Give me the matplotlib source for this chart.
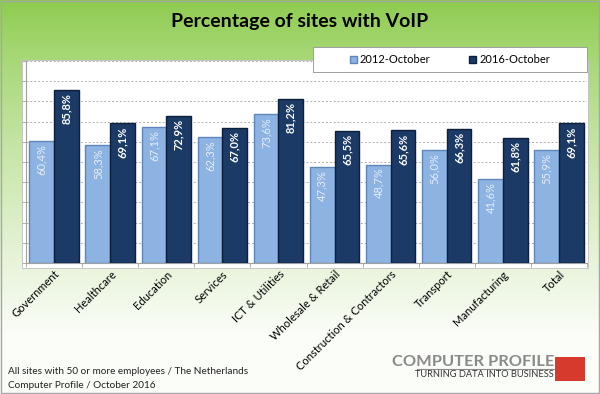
import matplotlib
matplotlib.use("Agg")
import matplotlib.pyplot as plt
import numpy as np
from matplotlib.patches import Rectangle

# data
categories = ["Government", "Healthcare", "Education", "Services", "ICT & Utilities",
              "Wholesale & Retail", "Construction & Contractors", "Transport",
              "Manufacturing", "Total"]
values_2012 = [60.4, 58.3, 67.1, 62.3, 73.6, 47.3, 48.7, 56.0, 41.6, 55.9]
values_2016 = [85.8, 69.1, 72.9, 67.0, 81.2, 65.5, 65.6, 66.3, 61.8, 69.1]
series_names = ["2012-October", "2016-October"]

plt.rcParams['font.family'] = ['Lato', 'DejaVu Sans']

W, H = 600, 394
fig = plt.figure(figsize=(W / 100, H / 100), dpi=100)

# background gradient (green top -> near white bottom)
bg = fig.add_axes([0, 0, 1, 1], zorder=-10)
top = np.array([0x8c, 0xcb, 0x4c]) / 255
bot = np.array([0xfb, 0xfd, 0xf8]) / 255
t = np.linspace(0, 1, 256)
t = np.clip(t / 0.85, 0, 1) ** 0.8
grad = top[None, :] * (1 - t[:, None]) + bot[None, :] * t[:, None]
bg.imshow(grad[:, None, :], aspect='auto', extent=[0, 1, 0, 1])
bg.set_xlim(0, 1)
bg.set_ylim(0, 1)
bg.axis('off')
bg.add_patch(Rectangle((0.002, 0.003), 0.996, 0.994, fill=False,
                       edgecolor='#a6a6a6', lw=1.0, transform=bg.transAxes))
# white plot area box
bg.add_patch(Rectangle((22 / W, 1 - 268 / H), (588 - 22) / W, (268 - 60) / H,
                       facecolor='white', edgecolor='#bfbfbf', lw=0.6,
                       transform=bg.transAxes))

ax = fig.add_axes([26 / W, 1 - 263 / H, (587 - 26) / W, (263 - 61) / H])
ax.set_facecolor('none')

x = np.arange(len(categories))
bw = 0.44
b1 = ax.bar(x - bw / 2, values_2012, bw, color='#8db3e2', edgecolor='#5f86b8',
            linewidth=1.0, zorder=3)
b2 = ax.bar(x + bw / 2, values_2016, bw, color='#1b3a66', edgecolor='#0c1f3c',
            linewidth=1.0, zorder=3)

for xi, v in zip(x, values_2012):
    ax.text(xi - bw / 2, v - 1.5, f"{v:.1f}%".replace('.', ','), rotation=90,
            ha='center', va='top', color='#e6eef9', fontsize=8, zorder=4)
for xi, v in zip(x, values_2016):
    ax.text(xi + bw / 2, v - 1.5, f"{v:.1f}%".replace('.', ','), rotation=90,
            ha='center', va='top', color='white', fontsize=8,
            fontweight='bold', zorder=4)

ax.set_xlim(-0.5, len(categories) - 0.5)
ax.set_ylim(0, 100)
ax.set_yticks(np.arange(0, 101, 10))
ax.set_yticklabels([])
ax.yaxis.grid(True, linestyle=(0, (2, 2)), color='#b0b0b0', lw=0.7, zorder=0)
ax.tick_params(axis='y', length=3, color='#a0a0a0', width=0.6)

ax.set_xticks(x)
ax.set_xticklabels(categories, rotation=45, ha='right', rotation_mode='anchor',
                   fontsize=8)
ax.tick_params(axis='x', length=0, pad=4)
ax.set_xticks(np.arange(-0.5, len(categories)), minor=True)
ax.tick_params(axis='x', which='minor', length=3, color='#a0a0a0', width=0.6)

for s in ['top', 'right']:
    ax.spines[s].set_visible(False)
ax.spines['left'].set_color('#a0a0a0')
ax.spines['bottom'].set_color('#a0a0a0')
ax.spines['left'].set_linewidth(0.8)
ax.spines['bottom'].set_linewidth(0.8)

# title
fig.text(0.5, 1 - 22 / H, "Percentage of sites with VoIP", ha='center',
         va='center', fontsize=14, fontweight='bold', color='black')

# legend box on top of the plot
lax = fig.add_axes([313 / W, 1 - 72 / H, (587 - 313) / W, (72 - 47) / H], zorder=10)
lax.set_xticks([])
lax.set_yticks([])
lax.set_facecolor('white')
for s in lax.spines.values():
    s.set_color('#a0a0a0')
    s.set_linewidth(0.7)
lax.legend([b1, b2], series_names, loc='center', ncol=2, frameon=False,
           fontsize=8, handlelength=0.6, handleheight=0.6, columnspacing=3.5,
           handletextpad=0.3)

# footnotes
fig.text(8 / W, 1 - 371 / H, "All sites with 50 or more employees / The Netherlands",
         fontsize=7.2, va='center', ha='left', color='#222222')
fig.text(8 / W, 1 - 385 / H, "Computer Profile / October 2016",
         fontsize=7.2, va='center', ha='left', color='#222222')

# logo
fig.text(554 / W, 1 - 362 / H, "COMPUTER PROFILE", fontsize=11.8, color='#8a8a8a',
         ha='right', va='center', fontweight='bold')
bg.plot([417 / W, 554 / W], [1 - 369 / H, 1 - 369 / H], color='#8a8a8a', lw=0.8)
fig.text(554 / W, 1 - 374.5 / H, "TURNING DATA INTO BUSINESS", fontsize=6.7,
         color='#333333', ha='right', va='center')
bg.add_patch(Rectangle((555 / W, 1 - 381 / H), (585 - 555) / W, (381 - 357) / H,
                       facecolor='#d63a2c', edgecolor='none', transform=bg.transAxes))

fig.savefig("out.png", dpi=100)
